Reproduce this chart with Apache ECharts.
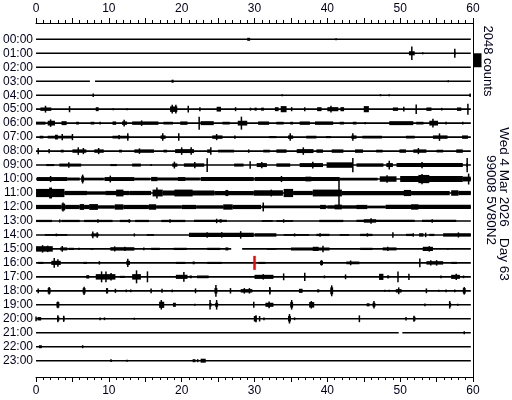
<!DOCTYPE html>
<html><head><meta charset="utf-8">
<script src="https://cdn.jsdelivr.net/npm/echarts@6/dist/echarts.min.js"></script>
<style>html,body{margin:0;padding:0;background:#fff}#c{width:512px;height:400px}</style>
</head><body><div id="c"></div>
<script>
// ---------------- data ----------------
const hourLabels = ['00:00','01:00','02:00','03:00','04:00','05:00','06:00','07:00','08:00','09:00','10:00','11:00',
  '12:00','13:00','14:00','15:00','16:00','17:00','18:00','19:00','20:00','21:00','22:00','23:00'];
const minuteTicks = [0, 10, 20, 30, 40, 50, 60];
const COUNTS_PER_ROW = 2048;          // scale bar: 2048 counts
const traceEnd = 59.7;                // minutes recorded per row
// gaps in the trace: [row, startMin, endMin]
const traceGaps = [[3, 7.4, 8.1], [15, 26.8, 28.3], [21, 49.8, 50.3]];
// current-time marker: [minute, row]
const nowMarker = [[30.0, 16]];
// scale bar: [minute, row, counts]
const scaleBar = [[60, 1, 2048]];

// events per hour row: [startMin, endMin, peak-to-peak counts]  (start==end -> single spike)
const r00 = [[29.0,29.4,440],[41.2,41.2,300]];
const r01 = [[51.2,52.0,600],[51.6,51.6,2000],[53.1,53.1,300],[57.4,57.6,440],[57.5,57.5,1300]];
const r02 = [];
const r03 = [[18.6,18.9,440],[56.6,56.6,300]];
const r04 = [[7.85,7.85,500],[33.8,33.8,300],[47.3,47.3,300],[48.5,48.5,300],[59.6,59.6,500]];
const r05 = [[0.6,2.1,500],[1.3,1.3,1000],[4.6,4.6,900],[8.2,8.6,580],[10.6,10.6,300],[12.5,12.5,300],[18.4,19.4,800],[18.7,18.7,1300],[19.2,19.2,1300],[20.9,20.9,1000],[22.4,22.6,580],[24.8,25.4,700],[27.3,27.5,580],[29.4,29.5,440],[30.0,30.3,440],[30.9,31.3,440],[32.8,33.3,580],[33.6,34.4,900],[35.1,35.1,600],[36.9,36.9,600],[38.6,39.2,580],[40.0,41.5,600],[40.5,40.5,1000],[41.8,42.3,600],[45.0,45.7,900],[49.0,49.7,500],[50.5,50.5,700],[52.2,52.2,1400],[53.6,54.3,500],[55.7,55.7,400],[57.8,58.4,500],[59.3,59.3,1600]];
const r06 = [[0,1.3,440],[1.6,2.6,700],[2.0,2.0,1100],[3.5,4.2,580],[5.5,5.9,400],[7.5,8.0,400],[8.8,8.8,400],[10.5,11.0,500],[11.8,12.5,500],[12.1,12.1,1000],[13.2,16.8,500],[14.5,14.5,800],[17.5,18.8,400],[19.8,20.8,500],[22.4,22.4,1900],[22.6,24.4,580],[25.6,26.6,400],[27.7,29.0,700],[28.2,28.2,1900],[30.5,32.0,500],[33.0,34.0,400],[34.9,35.3,400],[36.2,37.6,500],[38.3,40.8,500],[41.7,42.3,400],[43.5,44.0,400],[45.2,45.2,300],[48.5,51.8,580],[52.2,53.2,400],[54.0,55.2,700],[54.5,54.5,1300],[56.3,56.3,400],[58.6,58.6,400]];
const r07 = [[0.5,1.0,400],[1.6,5.0,400],[2.6,3.0,700],[3.6,3.6,900],[5.0,5.0,900],[10.5,12.8,400],[11.3,11.5,600],[12.6,12.6,1100],[17.1,17.8,500],[17.4,17.4,1100],[19.6,19.6,1100],[24.2,25.6,500],[24.8,24.8,900],[27.3,27.3,500],[32.0,33.0,300],[34.6,35.3,500],[34.9,34.9,1100],[37.1,38.5,400],[39.8,40.5,300],[43.3,44.0,500],[43.5,43.5,1100],[44.8,47.5,400],[50.8,52.0,400],[54.5,56.5,500],[55.4,55.4,1100],[58.5,59.3,500]];
const r08 = [[0.3,0.3,900],[1.8,1.8,600],[3.4,3.8,400],[5.0,6.9,500],[5.8,5.8,1100],[6.5,6.5,900],[8.0,9.3,500],[8.6,8.6,900],[11.4,11.8,400],[13.5,16.2,500],[14.2,14.2,800],[17.5,18.0,400],[19.1,21.7,580],[20.0,20.0,1100],[21.3,21.3,1100],[23.5,24.0,500],[24.0,24.0,1100],[25.0,27.2,400],[29.2,29.2,500],[31.2,32.1,400],[33.0,34.4,500],[35.8,38.1,580],[36.7,36.7,1100],[38.5,39.4,500],[40.6,42.2,500],[43.8,44.9,500],[46.7,47.6,400],[49.9,50.8,500],[51.8,53.6,500],[52.5,52.5,900],[55.0,55.9,400],[57.7,58.6,500]];
const r09 = [[1.4,2.5,300],[3.2,6.2,440],[4.5,4.5,800],[10.2,11.1,300],[13.2,14.4,440],[15.8,15.8,300],[18.7,19.4,500],[19.0,19.0,1000],[20.3,23.1,500],[21.8,21.8,900],[23.5,23.5,2000],[27.2,28.5,440],[29.4,29.4,1100],[30.3,31.7,580],[31.0,31.0,900],[33.0,34.9,500],[36.2,39.4,580],[38.0,38.0,1000],[39.9,43.5,800],[43.5,43.5,2100],[44.0,47.7,500],[48.1,49.0,580],[48.5,48.5,1300],[49.5,58.6,580],[53.0,53.0,900],[59.1,59.3,580],[59.2,59.2,2100]];
const r10 = [[0.1,4.3,580],[2.0,2.0,900],[4.3,6.0,440],[6.2,6.6,800],[6.4,6.4,1300],[6.6,9.3,400],[9.4,13.5,580],[10.2,10.2,1000],[13.5,15.7,400],[15.8,16.7,620],[16.7,22.5,440],[19.5,20.5,580],[22.6,29.9,580],[30.0,41.7,580],[33.7,33.7,900],[37.0,37.8,700],[41.7,46.9,400],[47.2,49.5,800],[48.2,48.2,1100],[50.0,58.6,880],[52.5,54.0,1200],[53.0,53.0,1500],[58.6,59.7,700],[59.4,59.4,1600]];
const r11 = [[0,3.9,1200],[1.8,2.2,1600],[3.9,7.0,620],[7.0,9.5,500],[9.5,12.8,620],[11.0,12.0,1000],[12.8,15.8,620],[16.0,17.4,1000],[16.6,16.6,1600],[17.4,24.5,760],[19.0,21.5,1000],[24.5,29.9,620],[26.0,26.4,900],[29.9,33.9,800],[32.3,32.3,1000],[34.0,35.3,1200],[35.3,38.0,620],[38.0,42.0,1000],[41.6,41.6,3900],[42.0,51.5,620],[50.5,51.5,900],[51.5,56.8,620],[57.0,58.0,800],[58.0,59.7,620]];
const r12 = [[0,3.5,620],[3.5,4.0,1000],[3.7,3.7,1300],[4.0,6.0,620],[6.0,6.6,850],[6.6,7.3,620],[7.3,8.5,850],[8.5,10.8,500],[10.8,12.0,780],[12.0,15.5,620],[15.5,16.5,800],[16.5,20.0,500],[20.0,22.0,620],[22.0,25.7,500],[25.7,27.0,780],[27.0,30.9,620],[31.2,31.2,1300],[31.0,40.0,400],[39.0,39.8,620],[40.0,41.2,500],[41.0,42.0,700],[42.0,45.0,500],[44.0,45.5,620],[45.5,48.0,400],[48.0,59.7,620],[51.5,52.5,780]];
const r13 = [[0,2.2,330],[3.2,3.3,450],[3.5,6.0,330],[6.6,10.5,330],[8.5,8.5,500],[11.5,13.0,330],[12.8,12.8,500],[13.6,15.5,330],[17.2,20.5,330],[18.4,18.4,500],[21.7,26.2,330],[24.8,24.8,650],[25.2,25.5,500],[31.0,32.5,250],[33.0,35.3,250],[34.0,34.0,500],[38.9,42.2,330],[44.0,52.0,330],[45.0,46.7,500],[46.0,46.0,800],[53.0,57.7,330],[54.4,54.4,500]];
const r14 = [[1.2,4.3,250],[2.8,2.8,400],[7.6,8.6,440],[7.8,7.8,1000],[8.4,8.4,800],[13.5,13.5,450],[15.2,16.2,250],[21.0,29.9,620],[23.5,23.5,800],[25.5,25.5,800],[28.1,28.1,1100],[30.0,33.0,500],[34.0,37.5,250],[35.5,35.5,450],[38.5,40.3,330],[39.0,39.0,500],[41.7,43.0,250],[44.5,46.2,330],[45.5,45.5,500],[49.0,49.0,800],[50.8,51.8,330],[51.8,51.8,500],[52.6,53.2,500],[53.5,53.5,650],[54.0,54.7,330],[55.9,59.7,500],[58.0,58.0,750]];
const r15 = [[0,2.3,800],[0.9,0.9,1100],[1.6,1.6,950],[3.3,4.3,440],[3.6,3.6,850],[4.5,5.2,330],[5.8,6.0,330],[7.5,7.9,250],[10.2,13.5,500],[10.8,10.8,750],[12.2,12.2,650],[14.8,14.8,400],[15.8,17.0,330],[18.9,20.7,330],[23.5,25.3,330],[26.0,26.4,440],[31.7,33.0,250],[35.0,40.3,440],[38.0,38.8,620],[39.4,39.4,950],[44.5,46.2,330],[47.6,49.5,440],[48.3,48.3,650],[53.1,54.5,620],[54.0,54.0,800],[56.5,56.6,250]];
const r16 = [[0.3,1.0,300],[2.1,3.4,600],[2.5,2.5,1400],[3.0,3.0,1100],[6.5,7.0,300],[8.6,8.8,500],[12.4,12.9,600],[12.6,12.6,1200],[19.2,20.5,300],[21.5,21.8,400],[23.5,25.5,300],[30.5,31.5,300],[39.0,39.4,600],[39.2,39.2,800],[42.6,44.4,400],[43.2,43.2,700],[52.7,52.7,1300],[53.6,55.9,500],[54.2,54.2,800],[55.0,55.0,800],[57.0,57.8,300]];
const r17 = [[6.9,7.3,500],[8.2,10.9,800],[9.0,9.0,1600],[9.6,9.6,1600],[10.3,10.3,1100],[11.5,12.2,300],[13.2,14.4,800],[13.8,13.8,1900],[15.3,15.3,1600],[19.2,20.8,600],[20.3,20.3,1400],[21.1,21.4,400],[22.1,23.7,400],[30.0,32.6,600],[31.2,31.2,800],[34.0,34.0,1000],[36.9,36.9,1200],[39.6,39.6,400],[42.4,42.6,700],[47.1,47.7,900],[48.2,48.5,450],[49.7,49.7,1600],[51.2,51.2,900],[55.6,55.6,400],[57.0,58.2,600],[57.7,57.7,900],[58.7,58.7,400]];
const r18 = [[0.3,0.3,700],[1.6,2.0,800],[1.8,1.8,1100],[6.4,6.8,800],[6.6,6.6,1200],[9.6,9.9,800],[10.9,10.9,600],[12.4,12.4,400],[13.0,13.0,400],[15.8,15.8,700],[17.3,17.3,600],[18.7,18.7,400],[21.9,21.9,700],[24.5,24.9,800],[24.7,24.7,1700],[26.7,26.7,800],[28.1,29.7,500],[28.6,28.6,800],[29.3,29.3,800],[32.0,32.2,800],[32.1,32.1,1100],[36.1,36.6,600],[38.6,38.9,450],[40.4,40.8,1000],[40.6,40.6,1600],[47.9,47.9,300],[48.5,48.5,300],[49.4,50.2,500],[49.8,49.8,1000],[53.6,53.6,700],[55.3,55.3,300],[56.3,56.3,400],[57.5,57.5,400],[58.6,59.0,800],[58.8,58.8,1100]];
const r19 = [[2.8,3.2,800],[3.0,3.0,1000],[16.9,17.6,900],[17.2,17.2,1400],[18.8,19.2,600],[21.8,21.8,300],[23.8,24.1,500],[23.9,23.9,1400],[24.6,25.0,600],[24.8,24.8,1400],[29.9,29.9,900],[31.5,32.6,600],[32.0,32.0,1000],[34.9,35.3,800],[35.1,35.1,1400],[37.5,38.2,800],[37.8,37.8,1100],[45.4,45.8,450],[46.2,46.6,600],[46.4,46.4,1100],[53.4,53.4,400],[56.7,57.0,600],[56.8,56.8,1100],[57.9,57.9,300]];
const r20 = [[0,0,700],[0.2,0.7,500],[2.9,3.2,600],[3.0,3.0,1000],[3.7,3.9,600],[3.8,3.8,900],[8.8,8.8,400],[9.4,9.4,400],[13.5,13.5,300],[29.9,30.3,800],[30.2,30.2,1000],[30.7,30.7,800],[31.3,31.3,400],[34.6,35.0,800],[34.8,34.8,1400],[35.5,35.5,400],[44.4,44.4,1000],[50.7,50.9,500],[51.8,52.1,600],[51.9,51.9,900]];
const r21 = [[58.7,58.9,440]];
const r22 = [[0.4,0.8,440],[6.3,6.5,440]];
const r23 = [[10.3,10.3,400],[12.5,12.5,300],[21.5,21.9,440],[22.1,22.3,440],[22.6,23.3,580]];
const hourRows = [r00,r01,r02,r03,r04,r05,r06,r07,r08,r09,r10,r11,r12,r13,r14,r15,r16,r17,r18,r19,r20,r21,r22,r23];

// ---------------- build series data ----------------
const eventData = [];
hourRows.forEach((evs, row) => evs.forEach(e => eventData.push([e[0], e[1], row, e[2]])));

const baseData = [];
hourLabels.forEach((h, row) => {
  let cur = 0;
  traceGaps.filter(g => g[0] === row).sort((a,b)=>a[1]-b[1]).forEach(g => {
    baseData.push([cur, g[1], row]); cur = g[2];
  });
  baseData.push([cur, traceEnd, row]);
});

const INK = '#000022';
const FONT = 'Liberation Sans, Arial, sans-serif';

function renderBase(params, api) {
  const a = api.coord([api.value(0), api.value(2)]);
  const b = api.coord([api.value(1), api.value(2)]);
  return { type: 'line', shape: { x1: a[0], y1: a[1], x2: b[0], y2: b[1] },
    style: { stroke: '#000', lineWidth: 1.6 } };
}
function renderEvent(params, api) {
  const s = api.value(0), e = api.value(1), r = api.value(2), c = api.value(3);
  const p0 = api.coord([s, r]), p1 = api.coord([e, r]);
  const h = Math.abs(api.size([0, c / COUNTS_PER_ROW])[1]);
  let x = p0[0], w = p1[0] - p0[0];
  if (w < 1.5) { x = (p0[0] + p1[0]) / 2 - 0.75; w = 1.5; }
  return { type: 'rect', shape: { x: x, y: p0[1] - h / 2, width: w, height: h }, style: { fill: '#000' } };
}
function renderMarker(params, api) {
  const p = api.coord([api.value(0), api.value(1)]);
  const h = Math.abs(api.size([0, 1])[1]);
  return { type: 'rect', shape: { x: p[0] - 1.25, y: p[1] - h / 2, width: 2.5, height: h }, style: { fill: '#ff0000' } };
}
function renderScale(params, api) {
  const p = api.coord([api.value(0), api.value(1)]);
  const h = Math.abs(api.size([0, api.value(2) / COUNTS_PER_ROW])[1]);
  return { type: 'rect', shape: { x: p[0] + 1, y: p[1], width: 7.5, height: h }, style: { fill: '#000' } };
}

const chart = echarts.init(document.getElementById('c'), null, { renderer: 'canvas' });
const xCommon = {
  type: 'value', min: 0, max: 60, interval: 5,
  axisLine: { show: true, onZero: false, lineStyle: { color: '#000', width: 1 } },
  axisTick: { show: true, length: 5, lineStyle: { color: '#000' } },
  minorTick: { show: true, splitNumber: 5, length: 3, lineStyle: { color: '#000' } },
  splitLine: { show: false }, minorSplitLine: { show: false },
  axisLabel: { fontSize: 12, fontFamily: FONT, color: INK, margin: 8,
    formatter: v => minuteTicks.indexOf(v) >= 0 ? String(v) : '' }
};
const yCommon = { type: 'value', min: -1.167, max: 24.167, inverse: true, splitLine: { show: false } };

chart.setOption({
  animation: false,
  backgroundColor: '#fff',
  grid: { left: 35, right: 39, top: 23, bottom: 23 },
  xAxis: [
    Object.assign({}, xCommon, { position: 'top' }),
    Object.assign({}, xCommon, { position: 'bottom' })
  ],
  yAxis: [
    Object.assign({}, yCommon, { position: 'left',
      axisLine: { show: false, onZero: false }, axisTick: { show: false },
      axisLabel: { customValues: hourLabels.map((h, i) => i), formatter: v => hourLabels[v],
        fontSize: 12, fontFamily: FONT, color: INK, margin: 3 } }),
    Object.assign({}, yCommon, { position: 'right',
      axisLine: { show: true, onZero: false, lineStyle: { color: '#000', width: 1 } }, axisTick: { show: false },
      axisLabel: { show: false } })
  ],
  series: [
    { type: 'custom', name: 'trace', renderItem: renderBase, data: baseData,
      encode: { x: [0, 1], y: 2 }, xAxisIndex: 0, yAxisIndex: 0, silent: true, z: 2 },
    { type: 'custom', name: 'events', renderItem: renderEvent, data: eventData,
      encode: { x: [0, 1], y: 2 }, xAxisIndex: 0, yAxisIndex: 0, silent: true, z: 3 },
    { type: 'custom', name: 'now', renderItem: renderMarker, data: nowMarker,
      encode: { x: 0, y: 1 }, xAxisIndex: 0, yAxisIndex: 0, silent: true, z: 4 },
    { type: 'custom', name: 'scale', renderItem: renderScale, data: scaleBar, clip: false,
      encode: { x: 0, y: 1 }, xAxisIndex: 0, yAxisIndex: 0, silent: true, z: 4 }
  ],
  graphic: [
    { type: 'text', x: 488, y: 61, rotation: -Math.PI / 2,
      style: { text: '2048 counts', font: '13px ' + FONT, fill: INK, align: 'center', verticalAlign: 'middle' } },
    { type: 'text', x: 504, y: 204, rotation: -Math.PI / 2,
      style: { text: 'Wed 4 Mar 2026   Day 63', font: '13.5px ' + FONT, fill: INK, align: 'center', verticalAlign: 'middle' } },
    { type: 'text', x: 491, y: 200, rotation: -Math.PI / 2,
      style: { text: '99008 5V80N2', font: '13.5px ' + FONT, fill: INK, align: 'center', verticalAlign: 'middle' } }
  ]
});
</script></body></html>
